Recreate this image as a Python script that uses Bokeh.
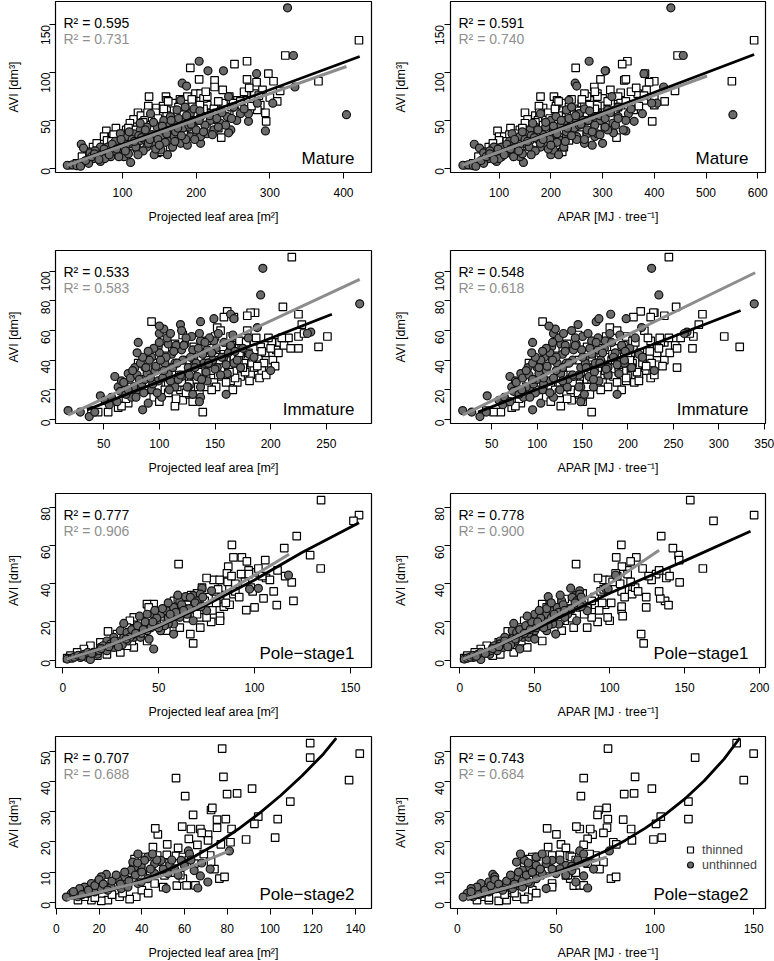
import math
from bokeh.plotting import figure
from bokeh.layouts import gridplot
from bokeh.models import Range1d, FixedTicker, Label, Legend, LegendItem
from bokeh.embed import file_html
from bokeh.resources import INLINE

# ------------------------------------------------------------------ data
stages = ["Mature", "Immature", "Pole\u2212stage1", "Pole\u2212stage2"]
r2_thin_pla = [0.595, 0.533, 0.777, 0.707]
r2_unth_pla = [0.731, 0.583, 0.906, 0.688]
r2_thin_apar = [0.591, 0.548, 0.778, 0.743]
r2_unth_apar = [0.740, 0.618, 0.900, 0.684]
xlab_pla = "Projected leaf area [m\u00b2]"
xlab_apar = "APAR [MJ \u00b7 tree\u207b\u00b9]"
ylab = "AVI [dm\u00b3]"
legend_labels = ["thinned", "unthinned"]

ticks_y = [[0, 50, 100, 150], [0, 20, 40, 60, 80, 100], [0, 20, 40, 60, 80], [0, 10, 20, 30, 40, 50]]
ticks_pla = [[100, 200, 300, 400], [50, 100, 150, 200, 250], [0, 50, 100, 150], [0, 20, 40, 60, 80, 100, 120, 140]]
ticks_apar = [[100, 200, 300, 400, 500, 600], [50, 100, 150, 200, 250, 300, 350], [0, 50, 100, 150, 200], [0, 50, 100, 150]]

# Mature, thinned
mat_t_avi = [134, 118, 91, 81, 99, 91, 112, 109, 105, 93,
             92, 85, 93, 78, 79, 90, 58, 49, 32, 42,
             75, 75, 71, 58, 63, 65, 39, 42, 33, 33,
             35, 51, 45, 52, 56, 61, 62, 68, 71, 66,
             62, 75, 78, 78, 73, 57, 52, 68, 61, 71,
             62, 69, 71, 66, 61, 43, 42, 40, 50, 43,
             38, 47, 43, 36, 29, 16, 17, 29, 26, 22,
             19, 14, 9, 5, 3, 12, 23, 26, 22, 29,
             35, 29, 21,
             30, 40, 47, 40, 55, 50, 45, 58, 48, 65,
             55, 45, 68, 55, 72, 52, 60, 66, 58, 62,
             75, 70, 75, 68, 58, 80, 65, 82, 74, 70,
             30, 35, 38, 40, 32, 22, 17, 12, 26, 35,
             28, 36, 42, 34, 48, 58, 40, 52, 62, 70,
             50, 64, 56, 72, 66, 80, 58, 82, 64, 70,
             84, 76, 24, 18, 30]
mat_t_pla = [421, 321, 366, 314, 298, 305, 269, 252, 192, 204,
             225, 225, 269, 279, 268, 282, 294, 295, 234, 230,
             136, 159, 160, 121, 146, 135, 78, 91, 75, 86,
             102, 115, 124, 140, 152, 170, 181, 188, 206, 215,
             224, 188, 199, 206, 210, 217, 220, 237, 242, 256,
             262, 271, 278, 287, 283, 224, 206, 195, 201, 188,
             170, 179, 156, 143, 133, 147, 152, 106, 93, 84,
             70, 61, 48, 38, 29, 52, 115, 129, 165, 174,
             183, 79, 66,
             95, 105, 110, 118, 125, 130, 138, 145, 150, 155,
             160, 165, 168, 175, 178, 185, 190, 195, 200, 210,
             215, 230, 245, 250, 255, 265, 275, 290, 300, 310,
             110, 120, 135, 150, 165, 60, 55, 45, 65, 88,
             85, 98, 108, 114, 128, 134, 142, 148, 156, 162,
             170, 176, 183, 194, 205, 213, 228, 236, 248, 260,
             272, 285, 100, 80, 140]
mat_t_apar = [593, 445, 550, 440, 382, 400, 348, 338, 248, 296,
              342, 284, 345, 368, 335, 390, 330, 396, 327, 270,
              180, 206, 212, 150, 185, 177, 97, 122, 100, 110,
              125, 155, 160, 190, 205, 230, 245, 260, 275, 290,
              310, 270, 265, 290, 300, 300, 290, 320, 345, 330,
              350, 370, 380, 400, 360, 300, 290, 260, 275, 240,
              230, 240, 200, 190, 175, 215, 222, 140, 120, 115,
              95, 80, 65, 50, 38, 70, 155, 170, 225, 235,
              255, 100, 90,
              130, 140, 150, 160, 170, 175, 185, 195, 200, 210,
              215, 220, 225, 235, 240, 250, 255, 265, 270, 285,
              290, 310, 330, 335, 340, 355, 370, 385, 400, 420,
              150, 160, 180, 200, 225, 80, 75, 60, 88, 120,
              115, 130, 145, 150, 170, 178, 190, 198, 208, 215,
              228, 235, 245, 260, 275, 285, 305, 315, 330, 345,
              365, 380, 135, 105, 188]
# Mature, unthinned
mat_u_avi = [168, 118, 56, 85, 68, 39, 49, 57, 99, 102,
             102, 112, 89, 86, 75, 40, 37, 68, 64, 61,
             3, 3.5, 2.5, 25, 6, 21, 16, 12, 7, 12,
             16, 12, 17, 22, 19, 22, 26, 19, 29, 22,
             26, 14, 19, 14, 29, 33, 36, 33, 26, 24,
             33, 36, 26, 33, 36, 43, 50, 54, 61, 71,
             64, 57, 62, 47, 50, 43, 40, 36, 33, 36,
             47, 57, 40, 47, 54, 57, 54, 50, 10, 5,
             2,
             8, 12, 18, 15, 10, 22, 18, 28, 12, 20,
             25, 15, 30, 22, 34, 18, 30, 26, 35, 20,
             30, 40, 27, 44, 22, 38, 52, 42, 30, 45,
             50, 40, 60, 45, 55, 52, 58, 45, 50, 62,
             15, 9, 20, 14, 25, 20, 30, 18, 38, 28,
             14, 32, 40, 30, 48, 24, 44, 36, 50, 28,
             42, 34, 55, 46, 30, 50, 38, 35, 43, 52]
mat_u_pla = [324, 332, 404, 334, 304, 294, 271, 271, 282, 216,
             237, 204, 181, 187, 244, 247, 244, 283, 251, 233,
             25, 32, 38, 44, 111, 47, 56, 66, 70, 84,
             93, 102, 84, 70, 79, 97, 111, 120, 124, 133,
             143, 143, 152, 161, 165, 152, 161, 170, 179, 188,
             192, 201, 206, 206, 215, 147, 156, 165, 174, 179,
             185, 192, 197, 170, 183, 133, 124, 115, 106, 97,
             124, 138, 224, 233, 242, 260, 206, 219, 61, 54,
             43,
             50, 58, 63, 72, 76, 80, 88, 90, 95, 100,
             105, 108, 113, 118, 122, 128, 130, 135, 140, 145,
             148, 155, 158, 163, 168, 172, 176, 182, 186, 190,
             196, 200, 205, 212, 218, 228, 235, 240, 255, 265,
             62, 68, 75, 82, 86, 92, 98, 104, 109, 116,
             121, 126, 131, 137, 142, 150, 154, 160, 166, 171,
             175, 180, 187, 193, 198, 204, 210, 222, 230, 248]
mat_u_apar = [432, 456, 552, 418, 405, 345, 361, 377, 380, 306,
              305, 274, 247, 250, 318, 340, 321, 395, 330, 310,
              30, 40, 50, 52, 147, 62, 70, 85, 95, 105,
              120, 140, 110, 90, 100, 125, 150, 165, 160, 180,
              190, 200, 205, 215, 220, 200, 210, 230, 265, 280,
              250, 270, 300, 285, 290, 190, 200, 210, 230, 235,
              240, 255, 265, 225, 250, 170, 160, 150, 140, 125,
              165, 180, 310, 320, 330, 350, 280, 295, 80, 70,
              55,
              65, 75, 82, 95, 100, 105, 115, 120, 128, 132,
              140, 145, 150, 158, 162, 170, 175, 180, 185, 195,
              198, 205, 212, 218, 225, 230, 235, 245, 250, 255,
              262, 270, 275, 285, 295, 305, 315, 325, 345, 355,
              82, 90, 98, 110, 115, 122, 130, 138, 145, 155,
              162, 168, 175, 185, 190, 200, 205, 212, 220, 228,
              232, 240, 248, 258, 265, 272, 280, 295, 305, 330]

# Immature, thinned
imm_t_avi = [109.5, 76, 71, 64, 56, 48, 56, 49, 47, 52,
             52, 72, 72, 73, 69, 69, 70, 66, 5, 9,
             13, 17, 22, 17, 17, 22, 11, 8, 5, 5,
             6, 27, 38, 38, 48, 51, 57, 49, 53, 62,
             60, 56, 53, 60, 53, 49, 42, 38, 33, 35,
             30, 29, 38, 33, 25, 26, 29, 25, 22, 33,
             31, 26, 20, 24, 22, 24, 42, 44, 42, 44,
             42, 38,
             20, 25, 30, 18, 36, 27, 17, 30, 45, 33,
             22, 40, 48, 25, 36, 50, 28, 40, 48, 32,
             45, 38, 55, 28, 45, 55, 40, 45, 50, 55,
             15, 20, 14, 9, 35, 40, 50, 56, 12, 14,
             12, 18, 22, 28, 24, 35, 27, 38, 20, 30,
             44, 32, 20, 38, 45, 35, 52, 26, 42, 36,
             46, 30, 48, 36, 55, 48, 58, 25, 32, 40]
imm_t_pla = [219, 211, 225, 228, 225, 225, 251, 243, 205, 208,
             201, 186, 182, 161, 158, 167, 179, 93, 139, 114,
             121, 127, 135, 102, 78, 75, 72, 63, 54, 45,
             39, 84, 81, 96, 105, 114, 121, 131, 143, 152,
             155, 164, 172, 179, 185, 191, 189, 194, 192, 185,
             182, 173, 176, 167, 170, 164, 155, 149, 143, 140,
             131, 125, 119, 108, 99, 90, 152, 161, 167, 173,
             137, 146,
             105, 112, 118, 124, 128, 133, 136, 142, 145, 148,
             151, 154, 157, 160, 162, 165, 168, 171, 174, 177,
             180, 183, 187, 190, 195, 198, 202, 207, 212, 216,
             95, 88, 70, 66, 110, 125, 138, 150, 130, 115,
             100, 108, 116, 122, 127, 134, 139, 144, 147, 153,
             158, 163, 166, 169, 172, 175, 178, 181, 184, 188,
             192, 196, 200, 204, 210, 218, 230, 120, 135, 160]
imm_t_apar = [245, 253, 282, 278, 272, 271, 306, 323, 232, 240,
              236, 229, 228, 214, 206, 225, 240, 106, 160, 126,
              138, 146, 155, 118, 92, 88, 82, 72, 60, 52,
              44, 95, 91, 110, 120, 133, 145, 155, 170, 180,
              188, 198, 205, 218, 225, 232, 232, 226, 219, 254,
              212, 200, 205, 195, 207, 198, 184, 172, 166, 163,
              150, 143, 137, 125, 115, 104, 176, 188, 196, 203,
              160, 170,
              120, 130, 137, 145, 150, 155, 158, 166, 170, 175,
              178, 182, 185, 188, 190, 195, 198, 202, 206, 210,
              213, 216, 222, 225, 232, 235, 240, 246, 252, 258,
              110, 100, 80, 76, 128, 146, 162, 176, 150, 133,
              115, 124, 133, 140, 146, 155, 160, 166, 170, 178,
              183, 190, 193, 196, 200, 204, 208, 212, 216, 220,
              224, 229, 234, 238, 245, 254, 268, 139, 156, 186]
# Immature, unthinned
imm_u_avi = [102, 84, 78, 59, 58, 33, 17, 15, 12, 6.5,
             6, 5, 2, 5, 16, 52, 58, 61, 63, 64,
             66, 68, 71, 62, 68, 44, 42, 13, 15, 22,
             29, 26, 31, 20, 15, 20, 24, 35, 35, 42,
             33, 26, 15, 11, 31, 38, 44, 47, 51, 56,
             42, 35, 29, 22, 22, 29, 38, 47, 53, 53,
             35, 42, 31, 38, 35, 26, 22, 17, 20, 27,
             38, 49, 51,
             10, 12, 19, 25, 17, 28, 22, 30, 38, 18,
             31, 40, 24, 36, 45, 28, 42, 20, 35, 50,
             27, 40, 55, 30, 47, 38, 58, 44, 32, 55,
             40, 48, 30, 52, 45, 57, 40, 48, 55, 60,
             20, 33, 15, 27, 42, 35, 28, 48, 18, 40,
             33, 55, 26, 46, 38, 30, 50, 22, 42, 35,
             48, 27, 52, 38, 45, 34, 58, 42, 37, 50,
             46, 58, 52, 46, 45]
imm_u_pla = [193, 191, 280, 236, 233, 200, 160, 137, 136, 85,
             18, 29, 37, 42, 47, 81, 100, 104, 100, 119,
             137, 149, 164, 188, 167, 181, 185, 51, 57, 63,
             60, 66, 72, 69, 75, 81, 84, 78, 87, 93,
             96, 99, 102, 90, 108, 114, 111, 120, 123, 129,
             131, 126, 120, 114, 126, 134, 140, 143, 137, 149,
             152, 158, 161, 167, 173, 143, 137, 130, 93, 87,
             105, 99, 108,
             55, 62, 65, 68, 70, 74, 77, 80, 83, 86,
             89, 91, 94, 97, 100, 103, 106, 109, 112, 115,
             117, 121, 124, 127, 130, 133, 136, 139, 142, 145,
             148, 151, 155, 158, 162, 166, 170, 175, 180, 120,
             72, 76, 79, 82, 85, 88, 92, 95, 98, 101,
             104, 107, 110, 113, 116, 119, 122, 125, 128, 132,
             135, 138, 141, 144, 147, 150, 153, 156, 160, 164,
             168, 110, 100, 90, 80]
imm_u_apar = [226, 234, 339, 265, 262, 229, 188, 150, 148, 95,
              18, 28, 37, 44, 45, 95, 118, 120, 113, 145,
              165, 168, 181, 215, 198, 212, 216, 58, 64, 72,
              70, 76, 82, 78, 85, 92, 96, 90, 100, 108,
              110, 114, 118, 104, 126, 132, 128, 140, 143, 150,
              153, 148, 140, 133, 148, 157, 164, 167, 160, 175,
              178, 185, 190, 196, 204, 168, 162, 152, 106, 100,
              122, 116, 126,
              62, 70, 74, 77, 80, 84, 88, 91, 95, 98,
              102, 104, 107, 111, 114, 118, 121, 125, 128, 131,
              134, 139, 142, 146, 149, 153, 156, 160, 163, 167,
              170, 174, 178, 182, 186, 191, 196, 202, 208, 138,
              83, 88, 92, 95, 98, 102, 107, 110, 114, 117,
              121, 124, 128, 131, 135, 139, 142, 146, 150, 154,
              158, 162, 165, 169, 172, 176, 180, 184, 188, 193,
              197, 129, 117, 106, 94]

# Pole-stage1, thinned
ps1_t_avi = [83.8, 76, 73, 65, 55, 48, 58.7, 40.7, 31, 28.8,
             60.4, 53.8, 53.8, 51.7, 47, 45, 46, 32.3, 52.4, 43,
             26.2, 27.6, 49, 45.4, 42, 43, 42, 50.3, 38, 33,
             28, 23, 20.6, 20, 8.7, 13.6, 22.4, 34.6, 29, 29,
             26.7, 27.6, 23, 20.6, 22.4, 29.3, 29.3, 27.6, 20.6, 22.4,
             20.6, 17, 15, 13.6, 9.3, 7.5, 5.8, 4, 2.3, 1,
             10, 6.6, 4, 3, 2.3, 7.5, 15.4, 17, 17, 22.4,
             9, 7, 12, 10, 16, 13, 18, 25, 19, 27,
             31, 25, 33, 30, 28, 33, 36, 38, 41, 40,
             45, 38, 48, 42, 47, 44, 35, 30, 36, 22,
             32, 27, 34, 24, 31, 26, 37, 30, 44, 33,
             41, 36, 44, 36, 21]
ps1_t_pla = [134.7, 154.5, 151.6, 122, 129, 134.5, 115.5, 119.4, 120.3, 111.6,
             88.2, 89, 93.4, 96, 96.9, 97, 101, 104.7, 105.6, 106,
             95.7, 100, 86.3, 85.6, 78.6, 75, 81.8, 60.4, 72.6, 82,
             84, 82, 82, 77.4, 68, 66.5, 71.7, 89, 87, 64.8,
             68, 61, 57.8, 54, 51, 47.4, 43.9, 44.8, 40.5, 37,
             35, 33.5, 23.6, 28.3, 19.6, 14.4, 11, 7.5, 4, 2.3,
             44, 37, 30, 23, 18, 33.5, 54, 61, 71.7, 75,
             25, 28, 32, 36, 39, 42, 46, 49, 52, 55,
             58, 62, 65, 69, 72, 76, 79, 83, 86, 90,
             93, 98, 102, 108, 112, 116, 70, 80, 90, 65,
             60, 63, 67, 70, 74, 78, 81, 85, 88, 92,
             95, 99, 104, 110, 57]
ps1_t_apar = [153.8, 196.4, 169.3, 134.4, 146, 162.2, 142.2, 146.7, 137, 139.3,
              107.8, 104.4, 117.8, 114, 112, 131, 137.8, 133.8, 146.4, 137.8,
              108, 124.4, 108.2, 104, 96, 92.2, 100, 77.6, 115.3, 124.4,
              108, 108.7, 100, 92, 122.7, 121, 98.7, 115, 97, 90.4,
              85, 80, 72, 70, 65, 60, 55, 58, 52, 46,
              43, 40, 32, 36, 26, 18, 14, 10, 5, 3,
              55, 45, 36, 27, 22, 40, 68, 76, 85, 88,
              28, 32, 37, 41, 45, 49, 53, 57, 61, 65,
              68, 73, 77, 81, 85, 90, 94, 98, 102, 107,
              112, 117, 122, 128, 133, 140, 82, 95, 108, 75,
              70, 74, 79, 83, 88, 93, 96, 101, 105, 110,
              114, 119, 126, 133, 67]
# Pole-stage1, unthinned
ps1_u_avi = [44.5, 37.6, 37.2, 36.3, 37.7, 5.8, 0.5, 1, 1.4, 1.4,
             0.3, 3.1, 4.9, 6.6, 7.5, 10, 11.9, 15.4, 17, 18.9,
             24, 24, 25.9, 27.6, 31, 33.2, 33.7, 29.3, 25.9, 24,
             20.6, 22.4, 18.9, 15.4, 15.4, 11.9, 13.6, 11.9, 11.9, 10,
             6.6, 15.4, 14.5, 24, 34.6, 32.9, 13.6, 19.2, 20, 19,
             1.5, 2.5, 3, 4, 4, 5, 7.5, 8.5, 9, 8,
             12, 16, 18, 14, 20, 17, 22, 27, 22, 25,
             29, 27, 31, 33, 34, 30, 26, 23, 11, 18,
             2, 3.5, 6, 7, 10, 7, 11, 14, 16, 20,
             17, 24, 26, 30, 28]
ps1_u_pla = [117.7, 102, 97.4, 77.6, 72.6, 47.4, 2.3, 4.9, 9.2, 12.7,
             14.4, 18, 23, 26.6, 30, 33.5, 37, 38.7, 42.2, 45.7,
             47.4, 51, 54, 57.8, 61, 64, 68, 71.7, 75, 64.8,
             68, 61, 57.8, 51, 44, 40.5, 37, 31.8, 26.6, 23,
             19.6, 30, 33.5, 44, 71.7, 66.5, 57.8, 31.8, 49, 55,
             6, 8, 11, 13, 16, 19, 21, 25, 28, 31,
             35, 36, 39, 41, 43, 46, 49, 52, 55, 59,
             62, 66, 70, 73, 60, 55, 48, 40, 45, 53,
             10, 15, 20, 24, 27, 29, 33, 38, 42, 47,
             50, 56, 63, 69, 72]
ps1_u_apar = [104, 97, 99, 80, 74, 40, 3, 5, 9, 13,
              14, 20, 25, 29, 33, 37, 42, 45, 48, 52,
              55, 58, 62, 65, 68, 59, 77, 82, 85, 72,
              78, 70, 66, 58, 50, 46, 42, 36, 30, 27,
              22, 35, 38, 50, 80, 75, 64, 36, 56, 62,
              7, 9, 12, 14, 18, 21, 23, 27, 31, 34,
              39, 40, 44, 46, 48, 51, 54, 58, 61, 66,
              69, 74, 78, 81, 67, 61, 53, 45, 50, 59,
              11, 17, 22, 26, 30, 32, 37, 43, 47, 52,
              56, 63, 70, 77, 81]

# Pole-stage2, thinned
ps2_t_avi = [51, 48, 52.8, 49.3, 40.5, 41.2, 35.2, 41.6, 35.9, 36.1,
             37.7, 28.4, 26, 33.4, 27.6, 21.4, 20.8, 19.9, 19.2, 24.3,
             27.6, 24.7, 27.4, 30.6, 31.3, 22.4, 20.5, 24.3, 24.3, 25.1,
             21, 19.2, 22.5, 24.5, 18.3, 15.5, 15.7, 15.4, 15, 12.8,
             15.5, 13.3, 7.8, 8.4, 5.5, 7.8, 5.6, 5.6, 9.8, 8.9,
             6.2, 15, 15, 14.3, 10.6, 8.9, 7.3, 1.8, 1, 1.8,
             0.7, 0.4, 0.7, 4, 6.7, 5, 1.8, 0.7,
             1.5, 2.5, 3, 4, 9, 11, 13, 18, 14, 19,
             16, 11, 5, 3, 9, 12, 6, 6, 29, 23]
ps2_t_pla = [77.6, 118.8, 118.8, 142, 137, 56, 60.3, 78.2, 79.9, 84.6,
             91.6, 94.5, 92.7, 109.5, 103.6, 102.4, 88.8, 81.5, 77, 82,
             79.3, 75.2, 75.2, 72.4, 73, 71, 71, 67.4, 63, 58.9,
             62, 51.9, 47.5, 46.3, 45.2, 47.2, 51.7, 56, 59.2, 64.6,
             72, 72.4, 76.3, 78.7, 56.4, 59.2, 61, 65.1, 55.6, 50.6,
             46, 41.3, 38.2, 36.6, 39.7, 33.5, 35.8, 37.4, 34.3, 29.6,
             24.1, 21, 16.4, 27.3, 30.4, 22.6, 13.2, 10.1,
             18, 26, 31, 40, 44, 48, 53, 57, 62, 66,
             69, 74, 50, 43, 58, 36, 33, 28, 64, 68]
ps2_t_apar = [76.3, 120.4, 141.4, 150, 145, 64, 62.6, 90, 84.5, 89.5,
              98.5, 103, 100.6, 117, 117, 103.5, 99.3, 79, 80.5, 88,
              76.2, 75.8, 84, 71.5, 75.6, 68.5, 88.4, 67.3, 62, 60.3,
              66, 52.5, 50.2, 45.5, 46, 48, 52, 57, 58, 66,
              70, 74, 77.8, 80.4, 59, 57.2, 62, 64, 60, 55,
              48, 40, 38, 36, 40, 34, 37, 36, 34, 30,
              25, 21, 16, 28, 31, 23, 13, 10,
              16, 24, 29, 38, 42, 46, 50, 55, 60, 64,
              67, 72, 48, 40, 56, 34, 31, 26, 71, 74]
# Pole-stage2, unthinned
ps2_u_avi = [17, 4.7, 6.7, 4.5, 8.7, 17, 16, 13.9, 12.2, 13.9,
             12.8, 15, 12.2, 11.7, 10.6, 8.4, 7.3, 9.2, 8.4, 6.7,
             6.2, 5, 4.5, 2.9, 1.7, 1.8, 2.9, 3.4, 4.5, 5,
             4.5, 5, 6.2, 7.8, 9.5, 9.5, 11.1, 6.7, 13.9, 16,
             13.3, 10.5,
             3.5, 2.5, 4, 5.5, 7.5, 6, 4, 7, 9, 6,
             10, 7, 9, 10, 11, 14, 11, 14, 9, 12,
             14, 13, 11, 16, 13]
ps2_u_pla = [81, 66.2, 70.9, 51.4, 67.4, 61.8, 62.3, 58.4, 53, 49,
             46, 42.8, 39.7, 36.6, 35, 31.9, 28.8, 23.4, 21, 19.5,
             16.4, 13.2, 10.9, 7, 4.7, 10.1, 14.8, 17.9, 21, 25.7,
             30.4, 33.5, 38.2, 42.8, 46, 52.2, 55.3, 39.7, 41.3, 38.2,
             35.8, 64.5,
             8, 12, 15, 18, 20, 22, 24, 26, 28, 30,
             32, 34, 37, 40, 44, 47, 50, 54, 57, 60,
             63, 68, 72, 45, 38]
ps2_u_apar = [77, 66, 60, 45, 64, 62, 64, 61, 55, 48,
              45, 40, 40, 36, 33, 30, 27, 18, 19, 16,
              12, 10, 7, 5, 3, 8, 13, 16, 20, 24,
              28, 33, 37, 40, 43, 50, 52, 36, 34, 32,
              30, 58,
              7, 11, 14, 17, 19, 21, 23, 25, 27, 29,
              31, 33, 35, 38, 42, 45, 48, 52, 55, 58,
              61, 65, 69, 43, 36]

# fitted curves (x, y)
mat_fit_pla_t = ([32, 422], [5.5, 117])
mat_fit_pla_u = ([25, 404], [3, 106.5])
mat_fit_apar_t = ([32, 593], [3.5, 119])
mat_fit_apar_u = ([29, 502], [3, 96.5])
imm_fit_pla_t = ([35, 255], [6.5, 71])
imm_fit_pla_u = ([18, 280], [3, 94.5])
imm_fit_apar_t = ([35, 324], [5, 73.5])
imm_fit_apar_u = ([18, 340], [3, 99])
ps1_fit_pla_t = ([2, 20, 50, 75, 100, 125, 154.5], [0.5, 6, 17.5, 29, 42, 56.5, 72])
ps1_fit_pla_u = ([2, 20, 50, 75, 100, 118], [0.5, 6, 18, 30, 44.5, 55.5])
ps1_fit_apar_t = ([2, 25, 50, 100, 150, 194], [0.5, 7.5, 16, 35, 52, 67.5])
ps1_fit_apar_u = ([2, 25, 50, 75, 100, 133], [0.5, 7.5, 17, 28, 40, 57.5])
ps2_fit_pla_t = ([5, 15, 25, 35, 45, 55, 65, 75, 85, 95, 105, 115, 125, 131],
                 [1, 2.2, 3.9, 6, 8.6, 11.7, 15.3, 19.4, 24.2, 29.5, 35.4, 42, 49.2, 54.5])
ps2_fit_pla_u = ([5, 20, 40, 60, 81], [1, 3.3, 6.8, 11, 17])
ps2_fit_apar_t = ([5, 15, 25, 35, 45, 55, 65, 75, 85, 95, 105, 115, 125, 135, 143],
                  [0.8, 2.6, 4.5, 6.5, 8.7, 11.2, 14, 17, 20.5, 24.5, 29, 34.2, 40.3, 47.5, 54.5])
ps2_fit_apar_u = ([5, 25, 50, 75.7], [1.2, 4.8, 9.5, 15])

# ------------------------------------------------------------------ style / layout
FONT = "Liberation Sans"
GRAY_FILL = "#6b6b6b"
GRAY_LINE = "#8c8c8c"
GRAY_TEXT = "#8f8f8f"
ROWS = [(171, 1, 58), (173, 20, 54), (174, 16, 53), (172, 15, 53)]   # frame h, top, bottom
COLS = [(55, 316, 16, 4, 13), (63, 315, 9, 5, 20)]                   # left, frame w, right, standoffs
XR_PLA = [(9, 438), (6.7, 290.6), (-3.8, 161), (-0.4, 147.5)]
XR_APAR = [(6, 615), (4.6, 351.4), (-6.2, 204), (-3.4, 156)]
YR = [(-4.6, 174.6), (-2.7, 114), (-3.9, 87.3), (-2.1, 55)]


def make_panel(col, r, xt, yt, xu, yu, ft, fu, r2t, r2u, stage, xr, yr, xticks, yticks, xlabel):
    fh, bt, bb = ROWS[r]
    bl, fw, br, y_so, ylab_so = COLS[col]
    p = figure(frame_width=fw, frame_height=fh,
               x_range=Range1d(start=xr[0], end=xr[1]),
               y_range=Range1d(start=yr[0], end=yr[1]),
               output_backend="svg", toolbar_location=None, tools="",
               min_border_left=bl, min_border_right=br,
               min_border_top=bt, min_border_bottom=bb)
    p.title.visible = False
    p.xgrid.visible = False
    p.ygrid.visible = False
    p.outline_line_color = "black"
    p.outline_line_width = 1.2
    p.outline_line_alpha = 1.0
    p.background_fill_color = "white"
    p.border_fill_color = "white"
    xa = p.xaxis[0]
    ya = p.yaxis[0]
    xa.ticker = FixedTicker(ticks=xticks)
    ya.ticker = FixedTicker(ticks=yticks)
    for ax in (xa, ya):
        ax.axis_line_color = None
        ax.major_tick_line_color = "black"
        ax.major_tick_line_width = 1
        ax.major_tick_in = 0
        ax.major_tick_out = 6
        ax.minor_tick_line_color = None
        ax.major_label_text_font = FONT
        ax.major_label_text_font_size = "12px"
        ax.major_label_text_color = "black"
        ax.axis_label_text_font = FONT
        ax.axis_label_text_font_size = "12.5px"
        ax.axis_label_text_font_style = "normal"
        ax.axis_label_text_color = "black"
    xa.axis_label = xlabel
    xa.major_label_standoff = 9
    xa.axis_label_standoff = 10
    ya.axis_label = ylab
    ya.major_label_orientation = math.pi / 2
    ya.major_label_standoff = y_so
    ya.axis_label_standoff = ylab_so

    rt = p.scatter(xt, yt, marker="square", size=7.5, fill_color="white",
                   line_color="black", line_width=1.2)
    ru = p.scatter(xu, yu, marker="circle", size=8, fill_color=GRAY_FILL,
                   line_color="#111111", line_width=1.2)
    p.line(ft[0], ft[1], line_color="black", line_width=2.8)
    p.line(fu[0], fu[1], line_color=GRAY_LINE, line_width=3)

    p.add_layout(Label(x=8, y=fh - 21, x_units="screen", y_units="screen",
                       text=f"R\u00b2 = {r2t:.3f}", text_font=FONT, text_font_size="14px",
                       text_color="black", text_baseline="alphabetic"))
    p.add_layout(Label(x=8, y=fh - 37.5, x_units="screen", y_units="screen",
                       text=f"R\u00b2 = {r2u:.3f}", text_font=FONT, text_font_size="14px",
                       text_color=GRAY_TEXT, text_baseline="alphabetic"))
    p.add_layout(Label(x=fw - 17, y=14, x_units="screen", y_units="screen",
                       text=stage, text_font=FONT, text_font_size="17px",
                       text_color="black", text_align="right", text_baseline="alphabetic"))
    return p, rt, ru


rows_data = [
    (mat_t_avi, mat_t_pla, mat_t_apar, mat_u_avi, mat_u_pla, mat_u_apar,
     mat_fit_pla_t, mat_fit_pla_u, mat_fit_apar_t, mat_fit_apar_u),
    (imm_t_avi, imm_t_pla, imm_t_apar, imm_u_avi, imm_u_pla, imm_u_apar,
     imm_fit_pla_t, imm_fit_pla_u, imm_fit_apar_t, imm_fit_apar_u),
    (ps1_t_avi, ps1_t_pla, ps1_t_apar, ps1_u_avi, ps1_u_pla, ps1_u_apar,
     ps1_fit_pla_t, ps1_fit_pla_u, ps1_fit_apar_t, ps1_fit_apar_u),
    (ps2_t_avi, ps2_t_pla, ps2_t_apar, ps2_u_avi, ps2_u_pla, ps2_u_apar,
     ps2_fit_pla_t, ps2_fit_pla_u, ps2_fit_apar_t, ps2_fit_apar_u),
]

grid_rows = []
for r, (t_avi, t_pla, t_apar, u_avi, u_pla, u_apar, fpt, fpu, fat, fau) in enumerate(rows_data):
    left, _, _ = make_panel(0, r, t_pla, t_avi, u_pla, u_avi, fpt, fpu,
                            r2_thin_pla[r], r2_unth_pla[r], stages[r],
                            XR_PLA[r], YR[r], ticks_pla[r], ticks_y[r], xlab_pla)
    right, rt, ru = make_panel(1, r, t_apar, t_avi, u_apar, u_avi, fat, fau,
                               r2_thin_apar[r], r2_unth_apar[r], stages[r],
                               XR_APAR[r], YR[r], ticks_apar[r], ticks_y[r], xlab_apar)
    if r == 3:
        leg = Legend(items=[LegendItem(label=legend_labels[0], renderers=[rt]),
                            LegendItem(label=legend_labels[1], renderers=[ru])],
                     location=(232, 36), orientation="vertical",
                     border_line_color=None, background_fill_alpha=0,
                     label_text_font=FONT, label_text_font_size="12.5px",
                     glyph_width=16, glyph_height=15, label_height=15,
                     label_standoff=4, padding=0, margin=0, spacing=0)
        right.add_layout(leg)
    grid_rows.append([left, right])

grid = gridplot(grid_rows, toolbar_location=None)

open("out.html", "w").write(file_html(grid, INLINE))
